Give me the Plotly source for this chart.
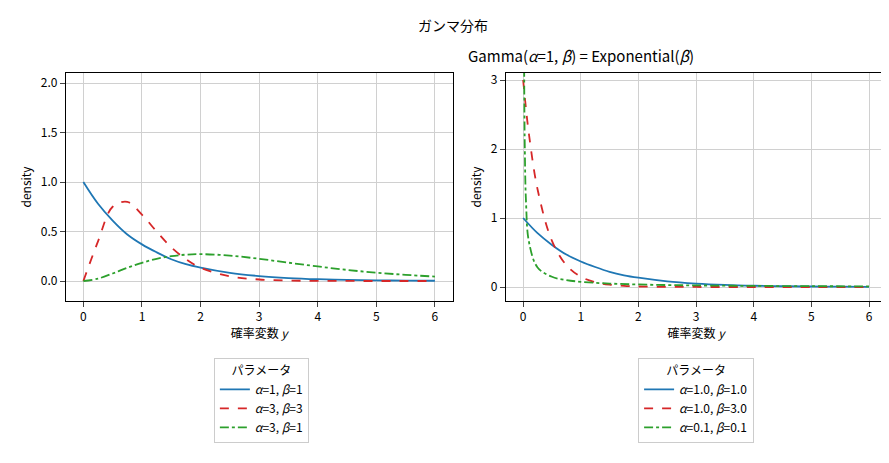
import plotly.graph_objects as go

# 左: 読み取った密度値
x_left = [0, 0.25, 0.5, 0.75, 1, 1.25, 1.5, 1.75, 2, 2.5, 3, 3.5, 4, 4.5, 5, 5.5, 6]
a1_b1 = [1, 0.78, 0.61, 0.47, 0.37, 0.29, 0.22, 0.17, 0.135, 0.082, 0.050, 0.030, 0.018, 0.011, 0.007, 0.004, 0.0025]
a3_b3 = [0, 0.40, 0.75, 0.80, 0.67, 0.50, 0.34, 0.22, 0.134, 0.047, 0.015, 0.0045, 0.0013, 0.0004, 0.0001, 0, 0]
a3_b1 = [0, 0.024, 0.076, 0.133, 0.184, 0.224, 0.251, 0.266, 0.271, 0.257, 0.224, 0.185, 0.147, 0.112, 0.084, 0.062, 0.045]

# 右
x_exp3 = [0, 0.05, 0.1, 0.25, 0.5, 0.75, 1, 1.25, 1.5, 1.75, 2, 2.5, 3, 4, 5, 6]
exp3 = [3, 2.58, 2.22, 1.417, 0.669, 0.316, 0.149, 0.0705, 0.033, 0.0157, 0.0074, 0.0017, 0.0004, 0, 0, 0]
x_small = [0.01, 0.02, 0.03, 0.05, 0.1, 0.25, 0.5, 0.75, 1, 1.5, 2, 2.5, 3, 4, 5, 6]
small = [5.27, 2.82, 1.96, 1.23, 0.657, 0.283, 0.148, 0.100, 0.0756, 0.050, 0.0366, 0.0285, 0.023, 0.016, 0.0119, 0.0091]

blue, red, green = "#1f77b4", "#d62728", "#2ca02c"
font = "Noto Sans CJK JP, DejaVu Sans"

fig = go.Figure()
def add(x, y, name, color, dash, xa, ya, leg):
    fig.add_trace(go.Scatter(x=x, y=y, name=name, mode="lines", line_shape="spline",
                             line=dict(color=color, dash=dash, width=1.8),
                             xaxis=xa, yaxis=ya, legend=leg))

add(x_left, a1_b1, "<i>α</i>=1, <i>β</i>=1", blue, "solid", "x", "y", "legend")
add(x_left, a3_b3, "<i>α</i>=3, <i>β</i>=3", red, "dash", "x", "y", "legend")
add(x_left, a3_b1, "<i>α</i>=3, <i>β</i>=1", green, "dashdot", "x", "y", "legend")
add(x_left, a1_b1, "<i>α</i>=1.0, <i>β</i>=1.0", blue, "solid", "x2", "y2", "legend2")
add(x_exp3, exp3, "<i>α</i>=1.0, <i>β</i>=3.0", red, "dash", "x2", "y2", "legend2")
add(x_small, small, "<i>α</i>=0.1, <i>β</i>=0.1", green, "dashdot", "x2", "y2", "legend2")

ax = dict(showline=True, linecolor="black", mirror=True, ticks="outside",
          gridcolor="#d0d0d0", zeroline=False, tickfont=dict(size=12))
xt = dict(text="確率変数 <i>y</i>", standoff=4, font=dict(size=12))
yt = dict(text="density", standoff=6, font=dict(size=12))
lt = dict(text="パラメータ", side="top center", font=dict(size=12))
fig.update_layout(
    width=889, height=463, margin=dict(l=0, r=0, t=0, b=0),
    plot_bgcolor="white", paper_bgcolor="white",
    font=dict(family=font, size=12, color="black"),
    showlegend=True,
    xaxis=dict(ax, domain=[0.065, 0.50], range=[-0.3, 6.3], dtick=1, anchor="y", title=xt),
    yaxis=dict(ax, domain=[0.37, 0.865], range=[-0.2, 2.1], dtick=0.5, tickformat=".1f",
               anchor="x", title=yt),
    xaxis2=dict(ax, domain=[0.56, 0.988], range=[-0.3, 6.3], dtick=1, anchor="y2", title=xt),
    yaxis2=dict(ax, domain=[0.37, 0.865], range=[-0.2, 3.1], dtick=1, anchor="x2", title=yt),
    legend=dict(x=0.285, y=0.245, xanchor="center", yanchor="top", title=lt,
                bordercolor="#cccccc", borderwidth=1, font=dict(size=12)),
    legend2=dict(x=0.774, y=0.245, xanchor="center", yanchor="top", title=lt,
                 bordercolor="#cccccc", borderwidth=1, font=dict(size=12)),
    annotations=[
        dict(text="ガンマ分布", x=0.5, y=0.995, xref="paper", yref="paper",
             showarrow=False, yanchor="top", font=dict(size=14)),
        dict(text="Gamma(<i>α</i>=1, <i>β</i>) = Exponential(<i>β</i>)", x=0.774, y=0.875,
             xref="paper", yref="paper", showarrow=False, yanchor="bottom", font=dict(size=15)),
    ],
)
fig.write_html("out.html")
